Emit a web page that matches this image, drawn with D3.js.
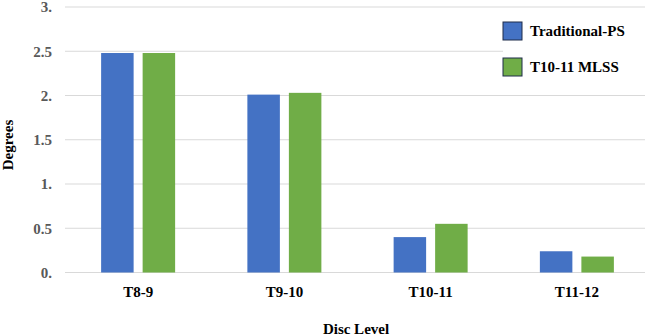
<!DOCTYPE html>
<html>
<head>
<meta charset="utf-8">
<script src="https://cdn.jsdelivr.net/npm/d3@7"></script>
<style>
  html, body { margin: 0; padding: 0; background: #fff; }
  svg { display: block; }
</style>
</head>
<body>
<svg id="chart" width="645" height="336"></svg>
<script>
const categories = ["T8-9", "T9-10", "T10-11", "T11-12"];
const seriesNames = ["Traditional-PS", "T10-11 MLSS"];
const traditionalPS = [2.48, 2.01, 0.40, 0.24];
const mlss = [2.48, 2.03, 0.55, 0.18];
const yTicks = [0, 0.5, 1, 1.5, 2, 2.5, 3];
const yTickLabels = ["0.", "0.5", "1.", "1.5", "2.", "2.5", "3."];
const colors = ["#4472C4", "#70AD47"];

const FONT = "'Liberation Serif', 'Times New Roman', serif";
const svg = d3.select("#chart")
  .attr("font-family", FONT).attr("font-weight", "bold");
const plotLeft = 65, plotRight = 645;

const y = d3.scaleLinear().domain([0, 3]).range([272.5, 7]);
const x0 = d3.scalePoint().domain(categories).range([65, 650]).padding(0.5);
const groupW = 74;
const x1 = d3.scaleBand().domain(seriesNames).range([-groupW / 2, groupW / 2]).paddingInner(0.217);

// gridlines
svg.append("g").selectAll("line").data(yTicks).join("line")
  .attr("x1", plotLeft).attr("x2", plotRight)
  .attr("y1", d => y(d)).attr("y2", d => y(d))
  .attr("stroke", "#d9d9d9").attr("stroke-width", 1);

// y tick labels
svg.append("g").selectAll("text").data(yTicks).join("text")
  .attr("x", 52).attr("y", d => y(d)).attr("dy", "0.35em")
  .attr("text-anchor", "end").attr("font-size", 15).attr("fill", "#595959")
  .text((d, i) => yTickLabels[i]);

// bars
const data = categories.map((c, i) => ({ cat: c, vals: [traditionalPS[i], mlss[i]] }));
const groups = svg.append("g").selectAll("g").data(data).join("g")
  .attr("transform", d => `translate(${x0(d.cat)},0)`);
groups.selectAll("rect").data(d => d.vals.map((v, j) => ({ v, s: seriesNames[j], j })))
  .join("rect")
  .attr("x", d => x1(d.s)).attr("width", x1.bandwidth())
  .attr("y", d => y(d.v)).attr("height", d => y(0) - y(d.v))
  .attr("fill", d => colors[d.j]);

// x labels
svg.append("g").selectAll("text").data(categories).join("text")
  .attr("x", d => x0(d)).attr("y", 297)
  .attr("text-anchor", "middle").attr("font-size", 15).attr("fill", "#000")
  .text(d => d);

// axis titles
svg.append("text").attr("x", 356).attr("y", 334)
  .attr("text-anchor", "middle").attr("font-size", 15).attr("fill", "#000")
  .text("Disc Level");
svg.append("text").attr("transform", "translate(13,145) rotate(-90)")
  .attr("text-anchor", "middle").attr("font-size", 15).attr("fill", "#000")
  .text("Degrees");

// legend
const lg = svg.append("g");
lg.append("rect").attr("x", 503).attr("y", 12).attr("width", 142).attr("height", 78).attr("fill", "#fff");
seriesNames.forEach((s, i) => {
  const yy = 22 + i * 36;
  lg.append("rect").attr("x", 503).attr("y", yy).attr("width", 19).attr("height", 18)
    .attr("fill", colors[i]).attr("stroke", "#1f2d4a").attr("stroke-width", 1);
  lg.append("text").attr("x", 530).attr("y", yy + 9).attr("dy", "0.35em")
    .attr("font-size", 15).attr("fill", "#000")
    .text(s);
});
</script>
</body>
</html>
